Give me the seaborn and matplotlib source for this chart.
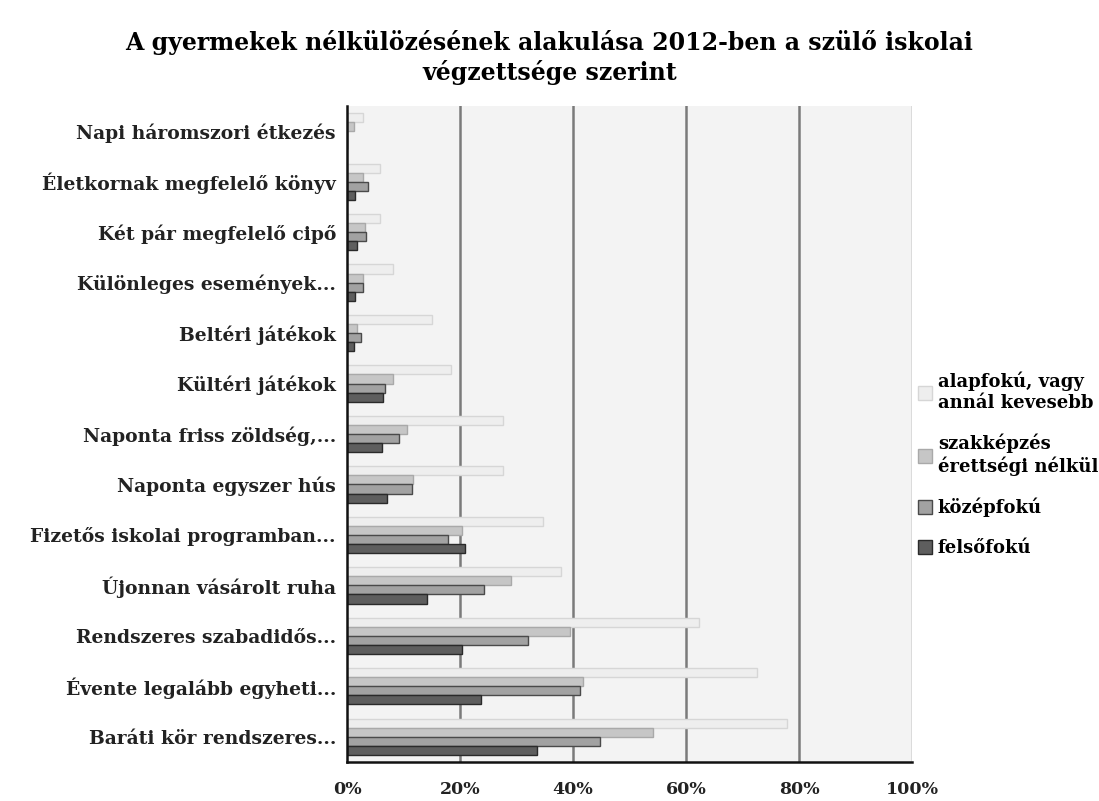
import matplotlib
matplotlib.use("Agg")
import matplotlib.pyplot as plt
import seaborn as sns
import pandas as pd

categories = [
    "Napi háromszori étkezés",
    "Életkornak megfelelő könyv",
    "Két pár megfelelő cipő",
    "Különleges események...",
    "Beltéri játékok",
    "Kültéri játékok",
    "Naponta friss zöldség,...",
    "Naponta egyszer hús",
    "Fizetős iskolai programban...",
    "Újonnan vásárolt ruha",
    "Rendszeres szabadidős...",
    "Évente legalább egyheti...",
    "Baráti kör rendszeres...",
]
series_names = [
    "alapfokú, vagy\nannál kevesebb",
    "szakképzés\nérettségi nélkül",
    "középfokú",
    "felsőfokú",
]
alapfoku = [2.8, 5.8, 5.8, 8.1, 15.1, 18.4, 27.6, 27.6, 34.7, 37.9, 62.3, 72.5, 77.8]
szakkepzes = [1.2, 2.8, 3.2, 2.8, 1.7, 8.1, 10.6, 11.6, 20.3, 29.0, 39.5, 41.7, 54.2]
kozepfoku = [0.0, 3.8, 3.3, 2.8, 2.4, 6.7, 9.2, 11.5, 17.9, 24.2, 32.1, 41.3, 44.8]
felsofoku = [0.0, 1.4, 1.8, 1.4, 1.2, 6.3, 6.2, 7.1, 20.8, 14.2, 20.3, 23.8, 33.6]
x_ticks = [0, 20, 40, 60, 80, 100]
x_tick_labels = ["0%", "20%", "40%", "60%", "80%", "100%"]
title = "A gyermekek nélkülözésének alakulása 2012-ben a szülő iskolai\nvégzettsége szerint"

fills = ["#eeeeee", "#c6c6c6", "#a2a2a2", "#5e5e5e"]
edges = ["#d6d6d6", "#a9a9a9", "#4a4a4a", "#2a2a2a"]

rows = []
for name, vals in zip(series_names, [alapfoku, szakkepzes, kozepfoku, felsofoku]):
    for c, v in zip(categories, vals):
        rows.append({"cat": c, "series": name, "value": v})
df = pd.DataFrame(rows)

plt.rcParams["font.family"] = ["DejaVu Serif"]

fig = plt.figure(figsize=(10.99, 8.01), dpi=100)
ax = fig.add_axes([347 / 1099, 1 - 762 / 801, (912 - 347) / 1099, (762 - 106) / 801])
ax.set_facecolor("#f3f3f3")

sns.barplot(data=df, x="value", y="cat", hue="series", hue_order=series_names,
            order=categories, palette=fills, orient="h", width=0.72,
            ax=ax, legend=True, saturation=1)

for cont, ec in zip(ax.containers, edges):
    for p in cont:
        p.set_edgecolor(ec)
        p.set_linewidth(1.0)

ax.set_xlim(0, 100)
ax.set_xticks(x_ticks)
ax.set_xticklabels(x_tick_labels, fontsize=12.5, fontweight="bold", color="#222222")
ax.tick_params(axis="x", length=0, pad=14)
ax.tick_params(axis="y", length=0, pad=8)
for lbl in ax.get_yticklabels():
    lbl.set_fontsize(13.5)
    lbl.set_fontweight("bold")
    lbl.set_color("#222222")
ax.set_xlabel("")
ax.set_ylabel("")
for x in x_ticks[1:]:
    ax.axvline(x, color="#7a7a7a", lw=1.8 if x < 100 else 1.0, zorder=0.5)
ax.set_axisbelow(True)
for s in ["top", "right"]:
    ax.spines[s].set_visible(False)
ax.spines["left"].set_color("#111111")
ax.spines["left"].set_linewidth(1.8)
ax.spines["bottom"].set_color("#111111")
ax.spines["bottom"].set_linewidth(1.8)

handles, labels = ax.get_legend_handles_labels()
ax.get_legend().remove()
for h, ec in zip(handles, edges):
    h.set_edgecolor(ec)
fig.legend(handles, labels, loc="upper left", bbox_to_anchor=(918 / 1099, 1 - 372 / 801),
           frameon=False, prop={"weight": "bold", "size": 13},
           handlelength=0.8, handleheight=0.8, handletextpad=0.3, labelspacing=1.2,
           borderaxespad=0, borderpad=0)

fig.suptitle(title, fontsize=17, fontweight="bold", y=0.963, linespacing=1.25)

fig.savefig("out.png", dpi=100)
